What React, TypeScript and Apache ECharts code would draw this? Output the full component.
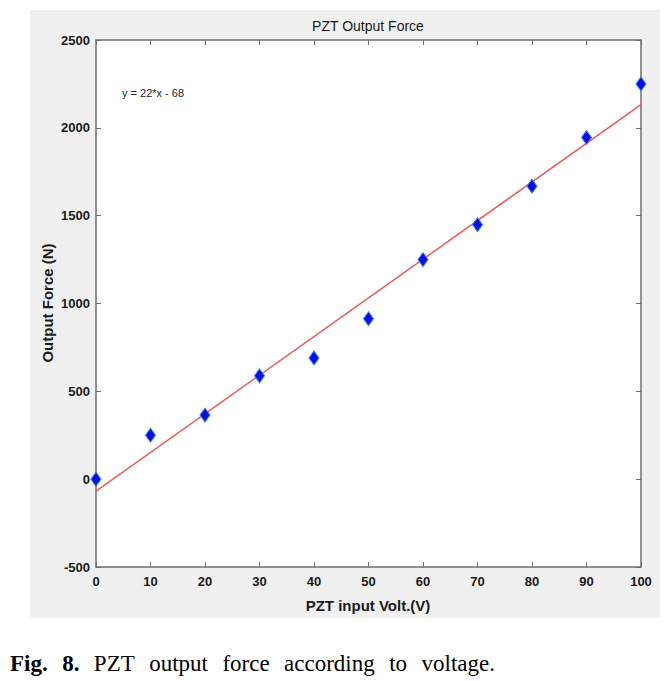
import React, { useEffect, useRef } from "react";
import * as echarts from "echarts";

const voltages = [0, 10, 20, 30, 40, 50, 60, 70, 80, 90, 100];
const forces = [0, 250, 365, 588, 690, 913, 1250, 1449, 1668, 1945, 2250];
const fitX = [0, 100];
const fitY = [-68, 2132];
const xTicks = [0, 10, 20, 30, 40, 50, 60, 70, 80, 90, 100];
const yTicks = [-500, 0, 500, 1000, 1500, 2000, 2500];

const TITLE = "PZT Output Force";
const EQUATION = "y = 22*x - 68";
const X_LABEL = "PZT input Volt.(V)";
const Y_LABEL = "Output Force (N)";
const CAPTION_WORDS = ["Fig.", "8.", "PZT", "output", "force", "according", "to", "voltage."];
const CAPTION_BOLD_COUNT = 2;

export default function App() {
  const ref = useRef<HTMLDivElement>(null);
  useEffect(() => {
    document.body.style.margin = "0";
    const chart = echarts.init(ref.current!, null, { renderer: "svg" });
    const left = 96, top = 40, right = 641, bottom = 567;
    const axisColor = "#6e6e6e";
    const font = "Liberation Sans, Arial, sans-serif";
    const serif = "'Liberation Serif', 'Times New Roman', serif";

    // justified caption between capStart and capEnd
    const capStart = 10, capEnd = 495, captionY = 663, capSize = 23;
    const ctx = document.createElement("canvas").getContext("2d")!;
    const fonts = CAPTION_WORDS.map((_, i) =>
      i < CAPTION_BOLD_COUNT ? `bold ${capSize}px ${serif}` : `${capSize}px ${serif}`
    );
    const widths = CAPTION_WORDS.map((w, i) => {
      ctx.font = fonts[i];
      return ctx.measureText(w).width;
    });
    const total = widths.reduce((a, b) => a + b, 0);
    const gap = (capEnd - capStart - total) / (CAPTION_WORDS.length - 1);
    let cx = capStart;
    const captionEls: any[] = CAPTION_WORDS.map((w, i) => {
      const el = {
        type: "text",
        x: cx,
        y: captionY,
        style: { text: w, fill: "#000", font: fonts[i], textAlign: "left", textVerticalAlign: "middle" },
      };
      cx += widths[i] + gap;
      return el;
    });

    chart.setOption({
      animation: false,
      backgroundColor: "#ffffff",
      graphic: [
        {
          type: "rect",
          z: -10,
          shape: { x: 30, y: 10, width: 630, height: 608 },
          style: { fill: "#f0f0f0" },
          silent: true,
        },
        {
          type: "rect",
          z: -9,
          shape: { x: left, y: top, width: right - left, height: bottom - top },
          style: { fill: "#ffffff" },
          silent: true,
        },
        {
          type: "text",
          x: 368,
          y: 26,
          style: {
            text: TITLE,
            fill: "#1a1a1a",
            font: `14px ${font}`,
            textAlign: "center",
            textVerticalAlign: "middle",
          },
        },
        {
          type: "text",
          x: 122,
          y: 93,
          style: {
            text: EQUATION,
            fill: "#222",
            font: `11px ${font}`,
            textAlign: "left",
            textVerticalAlign: "middle",
          },
        },
        {
          type: "text",
          x: 368,
          y: 605,
          style: {
            text: X_LABEL,
            fill: "#1a1a1a",
            font: `bold 15px ${font}`,
            textAlign: "center",
            textVerticalAlign: "middle",
          },
        },
        {
          type: "text",
          x: 47,
          y: 303,
          rotation: Math.PI / 2,
          style: {
            text: Y_LABEL,
            fill: "#1a1a1a",
            font: `bold 15px ${font}`,
            textAlign: "center",
            textVerticalAlign: "middle",
          },
        },
        ...captionEls,
      ],
      grid: { left, top, width: right - left, height: bottom - top, show: false },
      xAxis: [
        {
          type: "value",
          min: 0,
          max: 100,
          interval: 10,
          position: "bottom",
          axisLine: { show: true, onZero: false, lineStyle: { color: axisColor, width: 1.5 } },
          axisTick: { show: true, inside: true, length: 5, lineStyle: { color: axisColor } },
          axisLabel: {
            show: true,
            color: "#1a1a1a",
            fontWeight: "bold",
            fontSize: 13,
            fontFamily: font,
            margin: 8,
            customValues: xTicks,
            formatter: (v: number) => String(v),
          },
          splitLine: { show: false },
        },
        {
          type: "value",
          min: 0,
          max: 100,
          interval: 10,
          position: "top",
          axisLine: { show: true, onZero: false, lineStyle: { color: axisColor, width: 1.5 } },
          axisTick: { show: true, inside: true, length: 5, lineStyle: { color: axisColor } },
          axisLabel: { show: false },
          splitLine: { show: false },
        },
      ],
      yAxis: [
        {
          type: "value",
          min: -500,
          max: 2500,
          interval: 500,
          position: "left",
          axisLine: { show: true, onZero: false, lineStyle: { color: axisColor, width: 1.5 } },
          axisTick: { show: true, inside: true, length: 5, lineStyle: { color: axisColor } },
          axisLabel: {
            show: true,
            color: "#1a1a1a",
            fontWeight: "bold",
            fontSize: 13,
            fontFamily: font,
            margin: 6,
            customValues: yTicks,
            formatter: (v: number) => String(v),
          },
          splitLine: { show: false },
        },
        {
          type: "value",
          min: -500,
          max: 2500,
          interval: 500,
          position: "right",
          axisLine: { show: true, onZero: false, lineStyle: { color: axisColor, width: 1.5 } },
          axisTick: { show: true, inside: true, length: 5, lineStyle: { color: axisColor } },
          axisLabel: { show: false },
          splitLine: { show: false },
        },
      ],
      series: [
        {
          type: "line",
          data: fitX.map((x, i) => [x, fitY[i]]),
          showSymbol: false,
          symbol: "none",
          lineStyle: { color: "#ee5a5a", width: 1.5 },
          silent: true,
          z: 2,
        },
        {
          type: "scatter",
          data: voltages.map((x, i) => [x, forces[i]]),
          symbol: "diamond",
          symbolSize: [10, 14],
          itemStyle: { color: "#0010e0", borderColor: "#3a7cff", borderWidth: 1, opacity: 1 },
          clip: false,
          z: 3,
        },
      ],
    });
    return () => chart.dispose();
  }, []);
  return <div ref={ref} style={{ width: 672, height: 681, position: "absolute", left: 0, top: 0 }} />;
}
